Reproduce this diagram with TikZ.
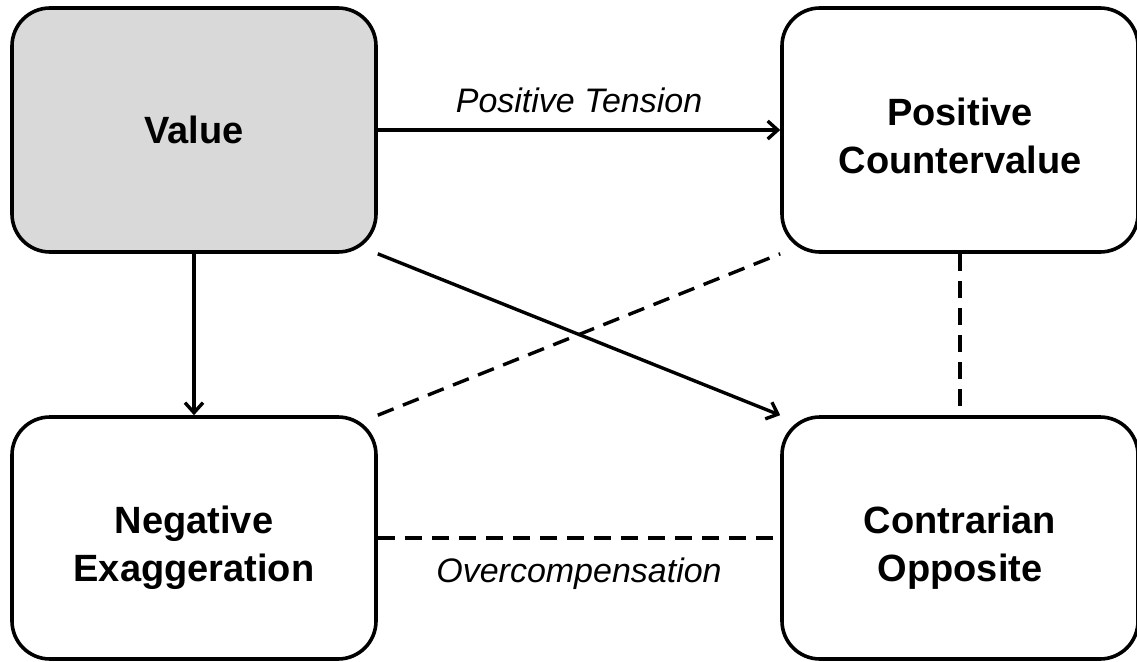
\documentclass[tikz,border=0pt]{standalone}
\usepackage{fontspec}
\setmainfont{Liberation Sans}
\usetikzlibrary{arrows.meta}
\definecolor{boxgray}{HTML}{D9D9D9}
\tikzset{
  box/.style={draw=black, line width=3.6pt, rounded corners=38pt, fill=white,
    align=center, font=\bfseries\fontsize{38}{48}\selectfont, inner sep=0pt},
  conn/.style={line width=3.4pt},
  arr/.style={conn, -{Straight Barb[length=10pt,width=18pt]}},
  dsh/.style={conn, dash pattern=on 17pt off 10pt},
  lbl/.style={font=\itshape\fontsize{34}{40}\selectfont, inner sep=0pt}
}
\newcommand{\tl}{\rule{0pt}{48pt}}
\newcommand{\bl}{\rule[-9pt]{0pt}{9pt}}
\begin{document}
\begin{tikzpicture}[x=1pt,y=-1pt]
\useasboundingbox (0,0) rectangle (1137,661);
\node[box, fill=boxgray, minimum width=364pt, minimum height=244pt] (v) at (194,130) {Value};
\node[box, minimum width=356pt, minimum height=244pt] (pc) at (960,130) {\tl Positive\\Countervalue\bl};
\node[box, minimum width=364pt, minimum height=242pt] (ne) at (194,538) {\tl Negative\\Exaggeration\bl};
\node[box, minimum width=356pt, minimum height=242pt] (co) at (960,538) {\tl Contrarian\\Opposite\bl};
\draw[arr] (v.east) -- node[lbl, anchor=base, yshift=18pt] (pt) {Positive Tension} (pc.west);
\draw[arr] (v.south) -- (ne.north);
\draw[arr] (v.south east) -- (co.north west);
\draw[dsh] (ne.north east) -- (pc.south west);
\draw[dsh] (pc.south) -- (co.north);
\draw[dsh] (ne.east) -- node[lbl, anchor=base, yshift=-44pt] (oc) {Overcompensation} (co.west);
\end{tikzpicture}
\end{document}
